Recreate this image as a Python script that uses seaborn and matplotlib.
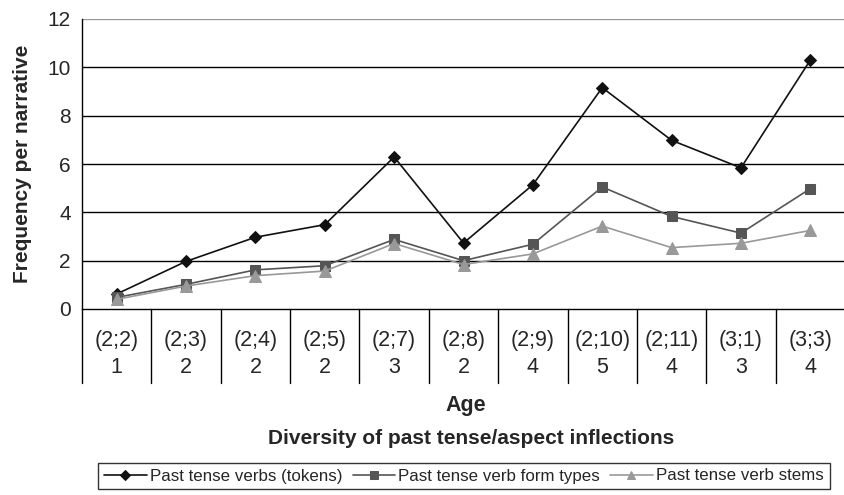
import pandas as pd
import matplotlib.pyplot as plt
import seaborn as sns

ages = ['(2;2)', '(2;3)', '(2;4)', '(2;5)', '(2;7)', '(2;8)', '(2;9)', '(2;10)', '(2;11)', '(3;1)', '(3;3)']
diversity = ['1', '2', '2', '2', '3', '2', '4', '5', '4', '3', '4']
tokens = [0.62, 1.97, 2.97, 3.49, 6.29, 2.73, 5.14, 9.16, 6.98, 5.84, 10.3]
form_types = [0.48, 1.02, 1.62, 1.79, 2.88, 2.0, 2.68, 5.05, 3.83, 3.14, 4.98]
stems = [0.40, 0.95, 1.38, 1.57, 2.71, 1.84, 2.28, 3.43, 2.54, 2.72, 3.25]

series_names = ['Past tense verbs (tokens)', 'Past tense verb form types', 'Past tense verb stems']

sns.set_style('white')
plt.rcParams['font.family'] = ['Liberation Sans', 'DejaVu Sans']

rows = []
for name, vals in zip(series_names, [tokens, form_types, stems]):
    for i, v in enumerate(vals):
        rows.append({'pos': i, 'value': v, 'series': name})
df = pd.DataFrame(rows)

fig = plt.figure(figsize=(8.45, 4.95), dpi=100)
ax = fig.add_axes([82 / 845, 1 - 309 / 495, 1 - 82 / 845, 290 / 495])

palette = {series_names[0]: '#111111', series_names[1]: '#555555', series_names[2]: '#999999'}
markers = {series_names[0]: 'D', series_names[1]: 's', series_names[2]: '^'}
sizes = {series_names[0]: 6.5, series_names[1]: 7, series_names[2]: 8.5}

for name in series_names:
    sub = df[df['series'] == name]
    sns.lineplot(data=sub, x='pos', y='value', ax=ax, color=palette[name],
                 marker=markers[name], markersize=sizes[name], markeredgecolor=palette[name],
                 linewidth=1.2, label=name)

ax.set_xlim(-0.5, len(ages) - 0.5)
ax.set_ylim(0, 12)
ax.set_yticks(range(0, 13, 2))
for y in range(2, 13, 2):
    ax.axhline(y, color='#999999' if y == 12 else 'black', linewidth=1, zorder=0)

for s in ['top', 'right']:
    ax.spines[s].set_visible(False)
ax.spines['left'].set_color('black')
ax.spines['bottom'].set_color('black')
ax.spines['left'].set_linewidth(1)
ax.spines['bottom'].set_linewidth(1)

ax.set_xticks(range(len(ages)))
ax.set_xticklabels([])
ax.tick_params(axis='x', direction='in', length=3, color='black')
ax.tick_params(axis='y', direction='out', length=4, color='black', labelsize=15, pad=4)
ax.set_xlabel('')
ax.set_ylabel('Frequency per narrative', fontsize=15, fontweight='bold')
ax.yaxis.set_label_coords(-0.066, 0.5)

# table under the axis
trans = ax.get_xaxis_transform()
for i, (a, d) in enumerate(zip(ages, diversity)):
    ax.text(i, -0.107, a, transform=trans, ha='center', va='center', fontsize=15.5)
    ax.text(i, -0.203, d, transform=trans, ha='center', va='center', fontsize=15.5)
for i in range(len(ages)):
    ax.plot([i - 0.5, i - 0.5], [0, -0.255], transform=trans, color='black',
            linewidth=1, clip_on=False)

fig.text(466 / 845, 1 - 405 / 495, 'Age', ha='center', va='center',
         fontsize=15.5, fontweight='bold')
fig.text(471 / 845, 1 - 438 / 495, 'Diversity of past tense/aspect inflections',
         ha='center', va='center', fontsize=15, fontweight='bold')

ax.legend_.remove()
handles, labels = ax.get_legend_handles_labels()
leg = fig.legend(handles, labels, loc='center', bbox_to_anchor=(464 / 845, 1 - 476 / 495),
                 ncol=3, frameon=True, fancybox=False, fontsize=12.2, handlelength=2.5,
                 handletextpad=0.2, columnspacing=0.6, borderpad=0.35, borderaxespad=0,
                 markerscale=0.75)
leg.get_frame().set_edgecolor('black')
leg.get_frame().set_linewidth(1)

fig.savefig('out.png', dpi=100)
